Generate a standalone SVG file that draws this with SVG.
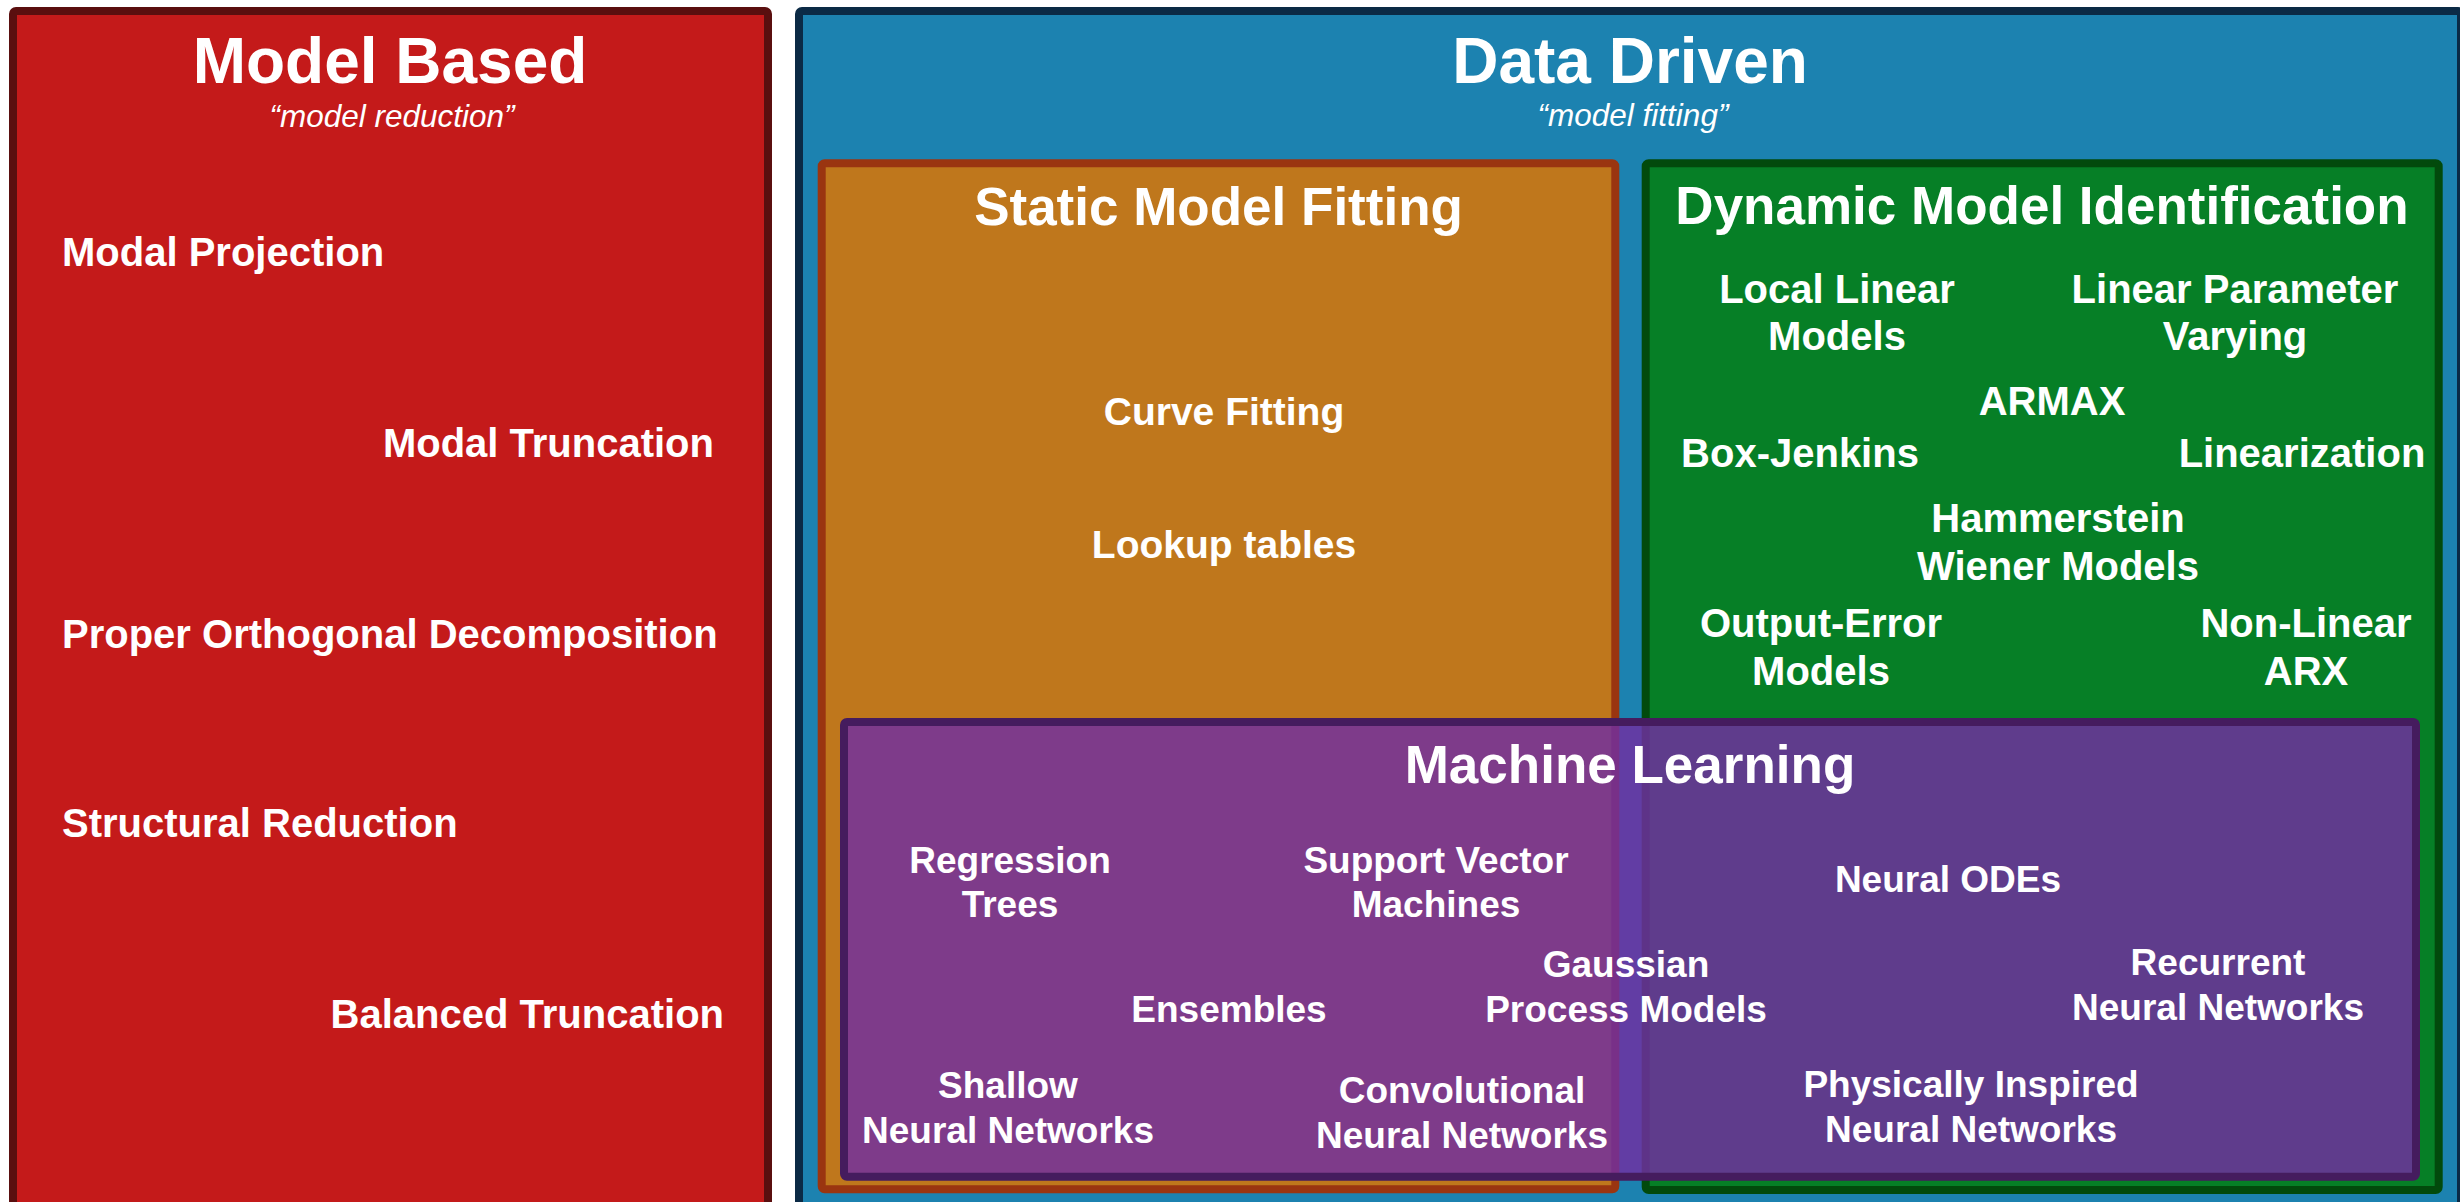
<svg xmlns="http://www.w3.org/2000/svg" width="2460" height="1202" viewBox="0 0 2460 1202">
  <style>
    text { font-family: "Liberation Sans", Arial, sans-serif; font-weight: bold; fill: #ffffff; }
    .c { text-anchor: middle; }
    .e { text-anchor: end; }
    .h1 { font-size: 64px; }
    .h2 { font-size: 53px; }
    .sub { font-size: 31.5px; font-style: italic; font-weight: normal; }
    .i40 { font-size: 40px; }
    .i39 { font-size: 39px; }
    .i37 { font-size: 37px; }
    .box { stroke-width: 8; }
  </style>
  <rect width="2460" height="1202" fill="#ffffff"/>

  <!-- Model based column -->
  <g id="model-based">
    <rect class="box" x="13" y="11" width="755" height="1210" rx="3" fill="#c41a1a" stroke="#5a0f0f"/>
    <text class="c h1" x="390" y="83">Model Based</text>
    <text class="c sub" x="392" y="127">“model reduction”</text>
    <text class="i40" x="62" y="266">Modal Projection</text>
    <text class="e i40" x="714" y="457">Modal Truncation</text>
    <text class="i40" x="62" y="648">Proper Orthogonal Decomposition</text>
    <text class="i40" x="62" y="837">Structural Reduction</text>
    <text class="e i40" x="724" y="1028">Balanced Truncation</text>
  </g>

  <!-- Data driven column -->
  <g id="data-driven">
    <rect class="box" x="799" y="11" width="1662" height="1210" rx="3" fill="#1c82b0" stroke="#0b2a45"/>
    <text class="c h1" x="1630" y="83">Data Driven</text>
    <text class="c sub" x="1633" y="126">“model fitting”</text>
  </g>

  <!-- Static model fitting -->
  <g id="static-model-fitting">
    <rect class="box" x="821.7" y="163.3" width="793.6" height="1026" rx="3" fill="#bf771c" stroke="#9a3510"/>
    <text class="c h2" x="1218.5" y="225">Static Model Fitting</text>
    <text class="c i39" x="1224" y="425">Curve Fitting</text>
    <text class="c i39" x="1224" y="558">Lookup tables</text>
  </g>

  <!-- Dynamic model identification -->
  <g id="dynamic-model-identification">
    <rect class="box" x="1645.7" y="163.3" width="793" height="1026.7" rx="3" fill="#067f26" stroke="#024a0c"/>
    <text class="c h2" x="2042" y="224">Dynamic Model Identification</text>
    <text class="c i40" x="1837" y="303">Local Linear</text>
    <text class="c i40" x="1837" y="350">Models</text>
    <text class="c i40" x="2235" y="303">Linear Parameter</text>
    <text class="c i40" x="2235" y="350">Varying</text>
    <text class="c i40" x="2052" y="415">ARMAX</text>
    <text class="c i40" x="1800" y="467">Box-Jenkins</text>
    <text class="c i40" x="2302" y="467">Linearization</text>
    <text class="c i40" x="2058" y="532">Hammerstein</text>
    <text class="c i40" x="2058" y="580">Wiener Models</text>
    <text class="c i40" x="1821" y="637">Output-Error</text>
    <text class="c i40" x="1821" y="685">Models</text>
    <text class="c i40" x="2306" y="637">Non-Linear</text>
    <text class="c i40" x="2306" y="685">ARX</text>
  </g>

  <!-- Machine learning (translucent, overlapping both sub-areas) -->
  <g id="machine-learning">
    <rect class="box" x="844" y="722" width="1572" height="454.7" rx="3" fill="#712fa1" fill-opacity="0.83" stroke="#451c5e"/>
    <text class="c h2" x="1630" y="783">Machine Learning</text>
    <text class="c i37" x="1010" y="873">Regression</text>
    <text class="c i37" x="1010" y="917">Trees</text>
    <text class="c i37" x="1436" y="873">Support Vector</text>
    <text class="c i37" x="1436" y="917">Machines</text>
    <text class="c i37" x="1948" y="892">Neural ODEs</text>
    <text class="c i37" x="1626" y="977">Gaussian</text>
    <text class="c i37" x="1626" y="1022">Process Models</text>
    <text class="c i37" x="1229" y="1022">Ensembles</text>
    <text class="c i37" x="2218" y="975">Recurrent</text>
    <text class="c i37" x="2218" y="1020">Neural Networks</text>
    <text class="c i37" x="1008" y="1098">Shallow</text>
    <text class="c i37" x="1008" y="1143">Neural Networks</text>
    <text class="c i37" x="1462" y="1103">Convolutional</text>
    <text class="c i37" x="1462" y="1148">Neural Networks</text>
    <text class="c i37" x="1971" y="1097">Physically Inspired</text>
    <text class="c i37" x="1971" y="1142">Neural Networks</text>
  </g>

  <g id="connectors"/>
</svg>
